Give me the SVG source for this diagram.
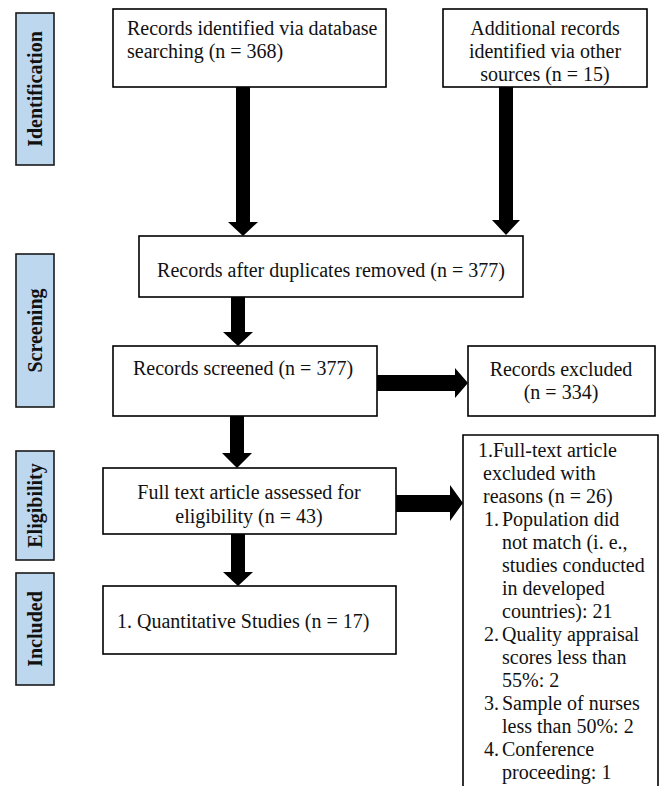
<svg xmlns="http://www.w3.org/2000/svg" width="661" height="786" viewBox="0 0 661 786">
<style>
.bg{fill:#ffffff}
.box{fill:#ffffff;stroke:#000;stroke-width:1.6}
.lab{fill:#bdd7ee;stroke:#1a1a1a;stroke-width:1.6}
.t{font-family:"Liberation Serif","Times New Roman",serif;font-size:20px;fill:#111}
.c{text-anchor:middle}
.lt{font-family:"Liberation Serif","Times New Roman",serif;font-size:20px;font-weight:bold;fill:#111;text-anchor:middle;dominant-baseline:central}
.arr{fill:#000}
</style>
<rect class="bg" x="0" y="0" width="661" height="786"/>

<g id="label-identification">
<rect class="lab" x="16" y="13" width="38" height="152"/>
<text class="lt" transform="translate(35,89) rotate(-90)">Identification</text>
</g>
<g id="label-screening">
<rect class="lab" x="16" y="254" width="38" height="153"/>
<text class="lt" transform="translate(35,330.5) rotate(-90)">Screening</text>
</g>
<g id="label-eligibility">
<rect class="lab" x="16" y="451" width="38" height="109"/>
<text class="lt" transform="translate(35,505.5) rotate(-90)">Eligibility</text>
</g>
<g id="label-included">
<rect class="lab" x="16" y="573" width="38" height="112"/>
<text class="lt" transform="translate(35,629) rotate(-90)">Included</text>
</g>

<g id="connectors">
<polygon class="arr" points="236,87 250,87 250,222 258,222 243,236 228,222 236,222"/>
<polygon class="arr" points="499,87 513,87 513,220 520,220 506,235 492,220 499,220"/>
<polygon class="arr" points="231,297 245,297 245,332 253,332 238,346 223,332 231,332"/>
<polygon class="arr" points="377,375 455,375 455,368 468,383 455,398 455,391 377,391"/>
<polygon class="arr" points="230,416 244,416 244,453 252,453 237,468 222,453 230,453"/>
<polygon class="arr" points="396,495 450,495 450,485 463,503 450,521 450,512 396,512"/>
<polygon class="arr" points="231,534 245,534 245,572 253,572 238,586 223,572 231,572"/>
</g>

<g id="node-database">
<rect class="box" x="113" y="9" width="273" height="78"/>
<text class="t" x="127" y="35">Records identified via database</text>
<text class="t" x="127" y="58">searching (n = 368)</text>
</g>
<g id="node-other">
<rect class="box" x="443" y="9" width="204" height="78"/>
<text class="t c" x="545" y="35">Additional records</text>
<text class="t c" x="545" y="58">identified via other</text>
<text class="t c" x="545" y="81">sources (n = 15)</text>
</g>
<g id="node-duplicates">
<rect class="box" x="139" y="236" width="384" height="61"/>
<text class="t c" x="331" y="277">Records after duplicates removed (n = 377)</text>
</g>
<g id="node-screened">
<rect class="box" x="113" y="346" width="264" height="70"/>
<text class="t c" x="243" y="375">Records screened (n = 377)</text>
</g>
<g id="node-excluded">
<rect class="box" x="468" y="346" width="187" height="70"/>
<text class="t c" x="561" y="376">Records excluded</text>
<text class="t c" x="561" y="399">(n = 334)</text>
</g>
<g id="node-fulltext">
<rect class="box" x="103" y="468" width="293" height="66"/>
<text class="t c" x="249" y="499">Full text article assessed for</text>
<text class="t c" x="249" y="523">eligibility (n = 43)</text>
</g>
<g id="node-included">
<rect class="box" x="103" y="586" width="293" height="68"/>
<text class="t" x="117" y="628">1.  Quantitative Studies (n = 17)</text>
</g>
<g id="node-reasons">
<path class="box" d="M463,787 V435 H658 V787"/>
<text class="t" x="478" y="457">1.Full-text article</text>
<text class="t" x="483" y="480">excluded with</text>
<text class="t" x="483" y="503">reasons (n = 26)</text>
<text class="t" x="484" y="526">1.</text>
<text class="t" x="502" y="526">Population did</text>
<text class="t" x="502" y="549">not match (i. e.,</text>
<text class="t" x="502" y="572">studies conducted</text>
<text class="t" x="502" y="595">in developed</text>
<text class="t" x="502" y="618">countries): 21</text>
<text class="t" x="484" y="641">2.</text>
<text class="t" x="502" y="641">Quality appraisal</text>
<text class="t" x="502" y="664">scores less than</text>
<text class="t" x="502" y="687">55%: 2</text>
<text class="t" x="484" y="710">3.</text>
<text class="t" x="502" y="710">Sample of nurses</text>
<text class="t" x="502" y="733">less than 50%: 2</text>
<text class="t" x="484" y="756">4.</text>
<text class="t" x="502" y="756">Conference</text>
<text class="t" x="502" y="779">proceeding: 1</text>
</g>
</svg>
